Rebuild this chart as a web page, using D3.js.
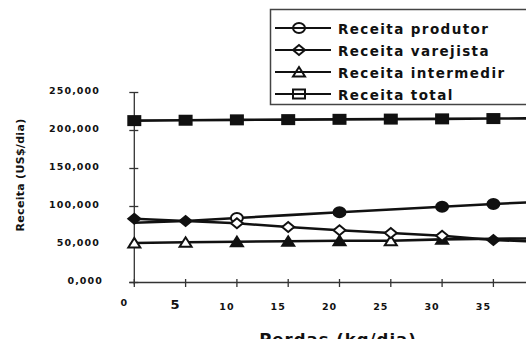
<!DOCTYPE html>
<html>
<head>
<meta charset="utf-8">
<script src="https://cdn.jsdelivr.net/npm/d3@7/dist/d3.min.js"></script>
<style>
  html, body { margin: 0; padding: 0; background: #fff; }
  svg { display: block; font-family: "DejaVu Sans", "Liberation Sans", Arial, sans-serif; font-weight: bold; }
</style>
</head>
<body>
<svg id="chart" width="526" height="339"></svg>
<script>
// Perdas (kg/dia)
const perdas = [0, 5, 10, 15, 20, 25, 30, 35, 40];
// Receita (US$/dia) per series
const receitaProdutor = [78700, 80900, 84900, 88600, 92400, 96000, 99700, 103300, 106500];
const receitaVarejista = [83900, 80900, 77900, 73000, 68700, 65100, 61600, 55900, 53500];
const receitaIntermed = [52000, 52900, 53700, 54200, 55000, 55000, 56800, 57600, 58000];
const receitaTotal = [213000, 213500, 214000, 214300, 214700, 215000, 215300, 215700, 216000];
const xTicks = [0, 5, 10, 15, 20, 25, 30, 35];
const yTicks = [0, 50000, 100000, 150000, 200000, 250000];
const seriesNames = ["Receita produtor", "Receita varejista", "Receita intermedir", "Receita total"];

const svg = d3.select("#chart");
const W = 526, H = 339;

const x = d3.scaleLinear().domain([0, 40]).range([134.3, 544.7]);
const y = d3.scaleLinear().domain([0, 250000]).range([282.5, 92.5]);

const ink = "#111";

// y axis: cross ticks and comma-grouped labels
const yAxis = svg.append("g").attr("transform", `translate(${x(0)},0)`);
yAxis.append("line").attr("y1", y(250000)).attr("y2", y(0) + 2)
  .attr("stroke", "#333").attr("stroke-width", 1.3);
yAxis.selectAll("line.tick").data(yTicks).join("line").attr("class", "tick")
  .attr("x1", -5).attr("x2", 4).attr("y1", d => y(d)).attr("y2", d => y(d))
  .attr("stroke", "#333").attr("stroke-width", 1.3);
const fmtY = d => d === 0 ? "0,000" : d3.format(",")(d);
svg.append("g").selectAll("text").data(yTicks).join("text")
  .attr("x", d => d === 0 ? 103 : 100).attr("y", d => y(d) + 1.5)
  .attr("text-anchor", "end").attr("font-size", 9.5).attr("letter-spacing", 1.1)
  .attr("fill", ink).text(fmtY);

// x axis
const xAxis = svg.append("g").attr("transform", `translate(0,${y(0)})`);
xAxis.append("line").attr("x1", x(0) - 5).attr("x2", W)
  .attr("stroke", "#333").attr("stroke-width", 1.3);
xAxis.selectAll("line.tick").data(xTicks).join("line").attr("class", "tick")
  .attr("x1", d => x(d)).attr("x2", d => x(d)).attr("y1", -3.5).attr("y2", 4.5)
  .attr("stroke", "#333").attr("stroke-width", 1.3);
svg.append("g").selectAll("text").data(xTicks).join("text")
  .attr("x", d => x(d) - 10)
  .attr("y", d => d === 5 ? 309 : (d === 0 ? 306 : 310))
  .attr("text-anchor", "middle")
  .attr("font-size", d => d === 5 ? 13 : 9.5)
  .attr("letter-spacing", 1)
  .attr("fill", ink).text(d => d);

// axis titles
svg.append("text").attr("x", 338).attr("y", 345).attr("text-anchor", "middle")
  .attr("font-size", 16.5).attr("letter-spacing", 1).attr("fill", ink).text("Perdas (kg/dia)");
svg.append("text").attr("transform", "translate(24,175) rotate(-90)")
  .attr("text-anchor", "middle").attr("font-size", 11).attr("letter-spacing", 0.3)
  .attr("fill", ink).text("Receita (US$/dia)");

// marker shapes
const shapes = {
  circle: g => g.append("ellipse").attr("rx", 6).attr("ry", 5),
  diamond: g => g.append("path").attr("d", "M-6,0L0,-5L6,0L0,5Z"),
  triangle: g => g.append("path").attr("d", "M-6,4.5L0,-5L6,4.5Z"),
  square: g => g.append("rect").attr("x", -6).attr("y", -4.5).attr("width", 12).attr("height", 9)
};

// which points carry a marker, and whether it is filled
const series = [
  { values: receitaProdutor, shape: "circle",
    marks: { 10: "open", 20: "fill", 30: "fill", 35: "fill" } },
  { values: receitaIntermed, shape: "triangle",
    marks: { 0: "open", 5: "open", 10: "fill", 15: "fill", 20: "fill", 25: "open", 30: "fill" } },
  { values: receitaVarejista, shape: "diamond",
    marks: { 0: "fill", 5: "fill", 10: "open", 15: "open", 20: "open", 25: "open", 30: "open", 35: "fill" } },
  { values: receitaTotal, shape: "square",
    marks: { 0: "fill", 5: "fill", 10: "fill", 15: "fill", 20: "fill", 25: "fill", 30: "fill", 35: "fill" } }
];

const plot = svg.append("g");
const line = d3.line().x(d => x(d[0])).y(d => y(d[1]));

series.forEach(s => {
  const pts = perdas.map((p, i) => [p, s.values[i]]);
  plot.append("path").datum(pts).attr("d", line)
    .attr("fill", "none").attr("stroke", ink).attr("stroke-width", 2.6);
});
series.forEach(s => {
  perdas.forEach((p, i) => {
    const m = s.marks[p];
    if (!m) return;
    const g = plot.append("g").attr("transform", `translate(${x(p)},${y(s.values[i])})`);
    shapes[s.shape](g).attr("fill", m === "fill" ? ink : "#fff")
      .attr("stroke", ink).attr("stroke-width", 2);
  });
});

// legend
const legend = svg.append("g");
legend.append("rect").attr("x", 270.5).attr("y", 9.5).attr("width", 270).attr("height", 95)
  .attr("fill", "#fff").attr("stroke", "#444").attr("stroke-width", 1.5);
const legendShapes = ["circle", "diamond", "triangle", "square"];
seriesNames.forEach((name, i) => {
  const ly = 28 + i * 22;
  const g = legend.append("g").attr("transform", `translate(0,${ly})`);
  g.append("line").attr("x1", 275).attr("x2", 331).attr("stroke", ink).attr("stroke-width", 2);
  const mg = g.append("g").attr("transform", "translate(299,0)");
  shapes[legendShapes[i]](mg).attr("fill", "none").attr("stroke", ink).attr("stroke-width", 2);
  g.append("text").attr("x", 338).attr("y", 5.5).attr("font-size", 13.5)
    .attr("letter-spacing", 1.4).attr("fill", ink).text(name);
});
</script>
</body>
</html>
